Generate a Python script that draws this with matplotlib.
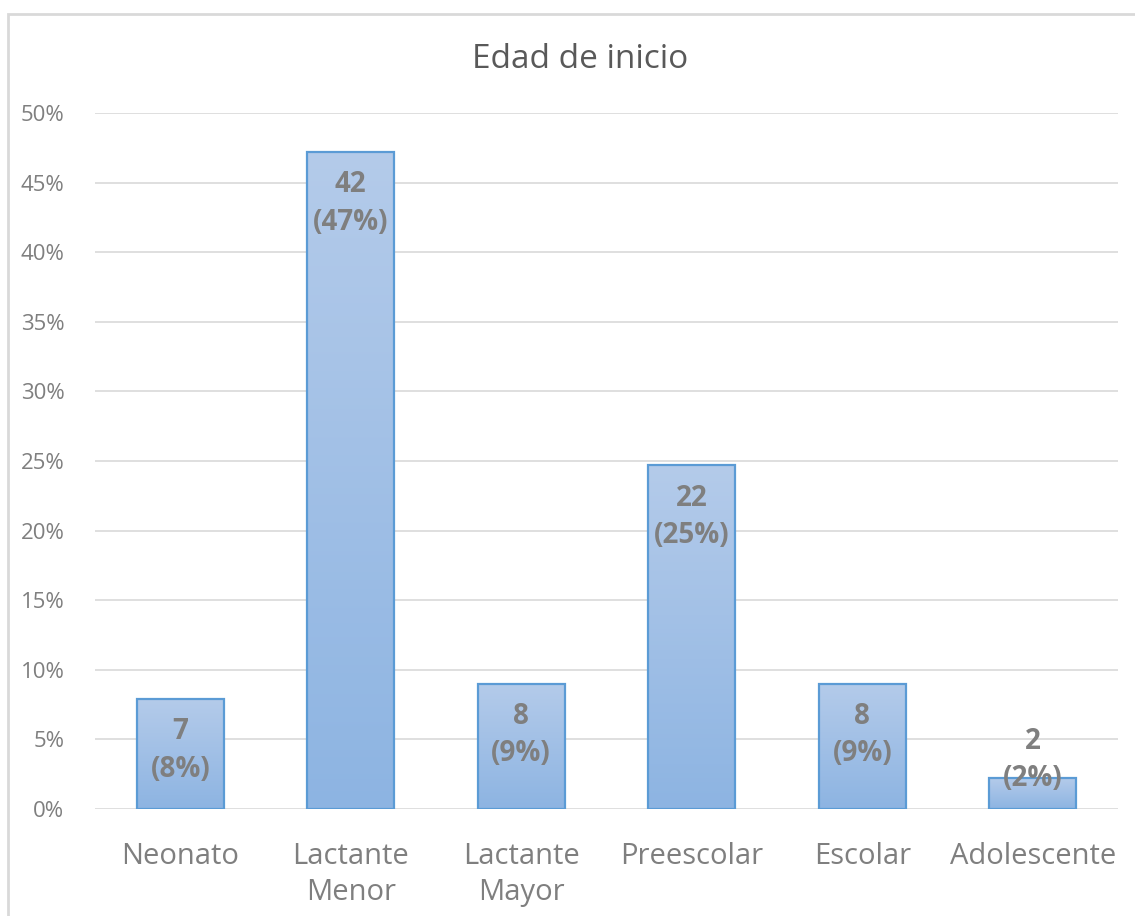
import numpy as np
import matplotlib
matplotlib.use("Agg")
import matplotlib.pyplot as plt
from matplotlib.patches import Rectangle
from matplotlib.ticker import PercentFormatter

# Data
categories = ["Neonato", "Lactante\nMenor", "Lactante\nMayor", "Preescolar", "Escolar", "Adolescente"]
counts = [7, 42, 8, 22, 8, 2]
percents = [7.9, 47.2, 9.0, 24.7, 9.0, 2.2]
pct_labels = ["8%", "47%", "9%", "25%", "9%", "2%"]
y_ticks = [0, 5, 10, 15, 20, 25, 30, 35, 40, 45, 50]

plt.rcParams['font.family'] = ['Open Sans', 'DejaVu Sans']

fig = plt.figure(figsize=(11.35, 9.16), dpi=100)
ax = fig.add_axes([95 / 1135, 107 / 916, 1023 / 1135, 696 / 916])

# light frame around the chart area
fig.patches.append(Rectangle((8 / 1135, -0.05), 1.2, (916 - 14) / 916 + 0.05,
                             transform=fig.transFigure, fill=False,
                             edgecolor='#d9d9d9', linewidth=2))

x = np.arange(len(categories))
width = 0.51
grad = np.linspace(0, 1, 256).reshape(-1, 1)
cmap = matplotlib.colors.LinearSegmentedColormap.from_list("g", ["#8db4e2", "#b4cbea"])

bars = ax.bar(x, percents, width=width, color='none', edgecolor='#5b9bd5',
              linewidth=1.6, zorder=3)
for b in bars:
    x0, y0 = b.get_x(), b.get_y()
    im = ax.imshow(grad, extent=[x0, x0 + b.get_width(), y0, y0 + b.get_height()],
                   origin='lower', aspect='auto', cmap=cmap, zorder=2)
    im.set_clip_path(b)

for xi, v, c, p in zip(x, percents, counts, pct_labels):
    yc = max(v - 3.7, 3.5)
    ax.text(xi, yc, f"{c}\n({p})", ha='center', va='center', fontsize=20,
            fontweight='bold', color='#7f7f7f', linespacing=1.38, zorder=4)

ax.set_xlim(-0.5, len(categories) - 0.5)
ax.set_ylim(0, 50)
ax.set_yticks(y_ticks)
ax.yaxis.set_major_formatter(PercentFormatter(decimals=0))
ax.set_xticks(x)
ax.set_xticklabels(categories, fontsize=21, color='#7f7f7f', linespacing=1.3)
ax.tick_params(axis='y', labelsize=16, colors='#7f7f7f', length=0, pad=22)
ax.tick_params(axis='x', length=0, pad=24)
ax.grid(axis='y', color='#d9d9d9', linewidth=1.2, zorder=0)
ax.set_axisbelow(True)
for s in ax.spines.values():
    s.set_visible(False)

fig.text(580 / 1135, 1 - 60 / 916, "Edad de inicio", ha='center', va='center',
         fontsize=24, color='#595959')

fig.savefig("out.png", dpi=100)
